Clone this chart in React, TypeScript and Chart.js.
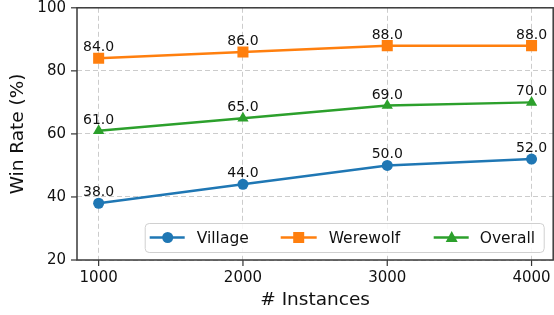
import React, { useEffect, useRef } from "react";
import { Chart, registerables } from "chart.js";

Chart.register(...registerables);

const instances = [1000, 2000, 3000, 4000];
const xTicks = [1000, 2000, 3000, 4000];
const yTicks = [20, 40, 60, 80, 100];
const village = [38, 44, 50, 52];
const werewolf = [84, 86, 88, 88];
const overall = [61, 65, 69, 70];

const seriesNames = ["Village", "Werewolf", "Overall"];
const colors = ["#1f77b4", "#ff7f0e", "#2ca02c"];
const FONT = "'DejaVu Sans', sans-serif";

function drawMarker(ctx: CanvasRenderingContext2D, kind: number, x: number, y: number, color: string) {
  ctx.save();
  ctx.fillStyle = color;
  ctx.beginPath();
  if (kind === 0) {
    ctx.arc(x, y, 5.5, 0, Math.PI * 2);
  } else if (kind === 1) {
    ctx.rect(x - 5.5, y - 5.5, 11, 11);
  } else {
    ctx.moveTo(x, y - 6.5);
    ctx.lineTo(x + 6, y + 4.5);
    ctx.lineTo(x - 6, y + 4.5);
    ctx.closePath();
  }
  ctx.fill();
  ctx.restore();
}

const extras = {
  id: "extras",
  afterDraw(chart: any) {
    const ctx: CanvasRenderingContext2D = chart.ctx;
    const ca = chart.chartArea;
    const xs = chart.scales.x;
    const ys = chart.scales.y;
    ctx.save();
    // tick marks
    ctx.strokeStyle = "#333";
    ctx.lineWidth = 1.2;
    yTicks.forEach((v) => {
      const py = ys.getPixelForValue(v);
      ctx.beginPath();
      ctx.moveTo(ca.left - 6, py);
      ctx.lineTo(ca.left, py);
      ctx.stroke();
    });
    ctx.fillStyle = "#111";
    ctx.font = `15px ${FONT}`;
    ctx.textAlign = "center";
    ctx.textBaseline = "top";
    xTicks.forEach((v) => {
      const px = xs.getPixelForValue(v);
      ctx.beginPath();
      ctx.moveTo(px, ca.bottom);
      ctx.lineTo(px, ca.bottom + 6);
      ctx.stroke();
      ctx.fillText(String(v), px, ca.bottom + 11);
    });
    // spines (right spine lies just outside the visible area)
    ctx.strokeStyle = "#3a3a3a";
    ctx.lineWidth = 1.5;
    ctx.strokeRect(ca.left, ca.top, ca.right - ca.left, ca.bottom - ca.top);
    // data labels
    ctx.fillStyle = "#111";
    ctx.font = `14px ${FONT}`;
    ctx.textAlign = "center";
    ctx.textBaseline = "alphabetic";
    chart.data.datasets.forEach((ds: any, di: number) => {
      const meta = chart.getDatasetMeta(di);
      meta.data.forEach((pt: any, i: number) => {
        const v = ds.data[i];
        const val = typeof v === "object" ? v.y : v;
        ctx.fillText(Number(val).toFixed(1), pt.x, pt.y - 7);
      });
    });
    // legend
    const bw = 399;
    const bh = 29;
    const bx = ca.right - 9.5 - bw;
    const by = ca.bottom - 8 - bh;
    ctx.fillStyle = "rgba(255,255,255,0.85)";
    ctx.strokeStyle = "#d0d0d0";
    ctx.lineWidth = 1;
    ctx.beginPath();
    (ctx as any).roundRect(bx + 0.5, by + 0.5, bw, bh, 4);
    ctx.fill();
    ctx.stroke();
    const entries = [
      { l0: 5, l1: 40, m: 23, t: 52 },
      { l0: 136, l1: 172, m: 154, t: 184 },
      { l0: 289, l1: 324, m: 307, t: 335 },
    ];
    const cy = by + 14.5;
    entries.forEach((e, i) => {
      ctx.strokeStyle = colors[i];
      ctx.lineWidth = 2.5;
      ctx.beginPath();
      ctx.moveTo(bx + e.l0, cy);
      ctx.lineTo(bx + e.l1, cy);
      ctx.stroke();
      drawMarker(ctx, i, bx + e.m, cy, colors[i]);
      ctx.fillStyle = "#111";
      ctx.font = `15.5px ${FONT}`;
      ctx.textAlign = "left";
      ctx.textBaseline = "middle";
      ctx.fillText(seriesNames[i], bx + e.t, cy + 1);
    });
    ctx.restore();
  },
};

export default function App() {
  const ref = useRef<HTMLCanvasElement | null>(null);
  useEffect(() => {
    if (!ref.current) return;
    const mk = (i: number, data: number[], style: string, r: number) => ({
      label: seriesNames[i],
      data: instances.map((x, j) => ({ x, y: data[j] })),
      borderColor: colors[i],
      backgroundColor: colors[i],
      borderWidth: 2.5,
      pointStyle: style,
      pointRadius: r,
      pointBorderWidth: 0,
      pointHoverRadius: r,
      tension: 0,
    });
    const zeroPad = (s: any) => {
      s.paddingLeft = 0;
      s.paddingRight = 0;
      s.paddingTop = 0;
      s.paddingBottom = 0;
    };
    const chart = new Chart(ref.current, {
      type: "line",
      data: {
        datasets: [
          mk(0, village, "circle", 5.5),
          mk(1, werewolf, "rect", 7.8),
          mk(2, overall, "triangle", 6.5),
        ] as any,
      },
      options: {
        animation: false,
        responsive: false,
        devicePixelRatio: 1,
        layout: { padding: { left: 3, right: 2, top: 7, bottom: 0 } },
        plugins: { legend: { display: false }, tooltip: { enabled: false } },
        scales: {
          x: {
            type: "linear",
            min: 850,
            max: 4150,
            afterBuildTicks: (s: any) => {
              s.ticks = xTicks.map((v) => ({ value: v }));
            },
            afterFit: (s: any) => {
              s.height = 55;
              zeroPad(s);
            },
            grid: { color: "#cccccc", lineWidth: 1, drawTicks: false },
            border: { display: false, dash: [5, 3] },
            ticks: { display: false },
            title: { display: true, text: "# Instances", color: "#111", font: { family: FONT, size: 18.5 }, padding: { top: 0, bottom: 4 } },
          },
          y: {
            min: 20,
            max: 100,
            afterBuildTicks: (s: any) => {
              s.ticks = yTicks.map((v) => ({ value: v }));
            },
            afterFit: (s: any) => {
              s.width = 74;
              zeroPad(s);
            },
            grid: { color: "#cccccc", lineWidth: 1, drawTicks: false },
            border: { display: false, dash: [5, 3] },
            ticks: { padding: 11, color: "#111", font: { family: FONT, size: 15 }, callback: (v: any) => String(v) },
            title: { display: true, text: "Win Rate (%)", color: "#111", font: { family: FONT, size: 18.5 }, padding: { top: 4, bottom: 0 } },
          },
        },
      },
      plugins: [extras],
    } as any);
    return () => chart.destroy();
  }, []);
  return (
    <div style={{ position: "fixed", left: 0, top: 0, width: 554, height: 315, overflow: "hidden", background: "#fff" }}>
      <canvas ref={ref} width={561} height={315} style={{ display: "block", width: 561, height: 315 }} />
    </div>
  );
}
